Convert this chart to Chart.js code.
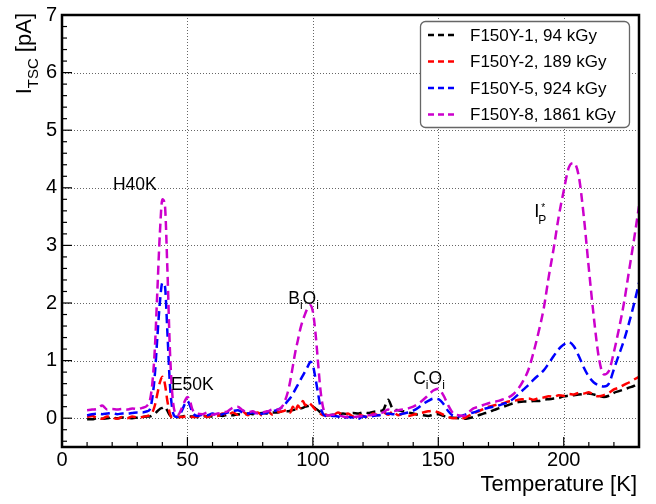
<!DOCTYPE html>
<html><head><meta charset="utf-8">
<script src="https://cdn.jsdelivr.net/npm/chart.js@4.4.1/dist/chart.umd.min.js"></script>
<style>html,body{margin:0;padding:0;background:#fff;} canvas{display:block;}</style>
</head><body>
<canvas id="c" width="656" height="504"></canvas>
<script>
// ---- data ----
const temps = [10,12,14,16,18,20,22,24,26,28,30,32,34,
 35,36,37,38,39,40,41,42,43,44,45,46,
 48,49,50,51,52,
 54,56,58,60,62,64,66,68,70,72,74,76,78,80,82,84,86,88,
 90,91,92,93,94,95,96,97,98,99,100,101,102,103,104,105,106,
 108,110,112,114,116,118,120,122,124,126,128,130,132,134,136,138,140,
 142,144,146,148,150,152,154,156,158,160,162,164,166,168,170,172,
 174,176,178,180,182,184,186,188,190,192,194,196,198,200,202,204,
 206,208,210,212,214,216,218,220,222,224,226,228,230];

const f150y1 = [-0.02,-0.02,0.0,-0.01,0.0,0.01,0.0,0.01,0.01,0.0,0.01,0.02,0.03,
 0.03,0.05,0.08,0.12,0.16,0.18,0.2,0.13,0.05,0.02,0.03,0.02,
 0.03,0.04,0.03,0.03,0.03,
 0.02,0.03,0.04,0.03,0.05,0.04,0.06,0.05,0.07,0.06,0.08,0.07,0.08,0.09,0.08,0.1,0.1,0.12,
 0.12,0.13,0.14,0.15,0.16,0.17,0.18,0.2,0.21,0.22,0.2,0.17,0.14,0.1,0.08,0.06,0.05,
 0.06,0.07,0.08,0.07,0.09,0.08,0.1,0.09,0.11,0.12,0.14,0.32,0.15,0.14,0.12,0.1,0.08,
 0.06,0.05,0.04,0.06,0.07,0.04,0.02,0.01,0.0,-0.01,0.0,0.02,0.05,0.08,0.1,0.14,
 0.17,0.2,0.23,0.26,0.28,0.29,0.29,0.3,0.3,0.32,0.33,0.34,0.35,0.38,0.39,0.4,
 0.41,0.42,0.43,0.41,0.39,0.37,0.39,0.44,0.47,0.5,0.53,0.56,0.62];

const f150y2 = [0.02,0.04,0.0,-0.01,0.03,0.01,-0.01,0.02,0.0,0.03,0.01,0.02,0.04,
 0.05,0.1,0.22,0.42,0.62,0.72,0.6,0.3,0.08,0.0,0.01,0.02,
 0.02,0.03,0.04,0.03,0.02,
 0.03,0.05,0.02,0.06,0.04,0.08,0.05,0.1,0.06,0.12,0.05,0.08,0.1,0.04,0.12,0.06,0.1,0.12,
 0.15,0.1,0.2,0.12,0.22,0.18,0.3,0.22,0.28,0.25,0.2,0.15,0.12,0.08,0.05,0.06,0.05,
 0.05,0.1,0.06,0.08,0.03,0.06,0.04,0.02,0.08,0.05,0.1,0.06,0.12,0.05,0.08,0.04,0.06,
 0.08,0.1,0.12,0.13,0.1,0.06,0.02,0.0,0.01,0.0,0.04,0.08,0.12,0.16,0.2,0.22,
 0.24,0.26,0.29,0.3,0.32,0.33,0.34,0.32,0.35,0.36,0.38,0.37,0.4,0.39,0.42,0.41,
 0.44,0.43,0.45,0.4,0.38,0.4,0.44,0.5,0.53,0.58,0.62,0.67,0.72];

const f150y5 = [0.05,0.07,0.08,0.07,0.08,0.09,0.07,0.08,0.08,0.09,0.1,0.1,0.12,
 0.15,0.35,0.75,1.4,2.0,2.35,2.3,1.5,0.6,0.15,0.03,0.02,
 0.15,0.25,0.3,0.22,0.1,
 0.04,0.06,0.05,0.08,0.05,0.07,0.1,0.12,0.14,0.1,0.08,0.1,0.06,0.08,0.1,0.12,0.15,0.2,
 0.3,0.35,0.42,0.5,0.58,0.66,0.74,0.82,0.9,0.98,0.92,0.7,0.45,0.2,0.08,0.04,0.05,
 0.04,0.03,0.0,0.02,0.01,-0.01,0.03,0.02,0.04,0.05,0.06,0.08,0.07,0.06,0.08,0.1,0.13,
 0.18,0.25,0.3,0.34,0.33,0.25,0.12,0.04,0.03,0.05,0.08,0.1,0.13,0.16,0.18,0.2,
 0.22,0.25,0.28,0.34,0.42,0.5,0.58,0.67,0.75,0.83,0.95,1.08,1.2,1.28,1.32,1.25,
 1.08,0.88,0.72,0.62,0.57,0.55,0.6,0.85,1.1,1.35,1.65,1.98,2.35];

const f150y8 = [0.14,0.15,0.16,0.22,0.15,0.16,0.15,0.16,0.15,0.17,0.16,0.18,0.22,
 0.3,0.6,1.2,2.2,3.2,3.8,3.7,2.6,1.2,0.4,0.1,0.05,
 0.2,0.3,0.37,0.3,0.15,
 0.08,0.07,0.1,0.06,0.08,0.1,0.12,0.18,0.2,0.14,0.1,0.12,0.08,0.1,0.12,0.15,0.15,0.22,
 0.45,0.65,0.9,1.15,1.35,1.55,1.7,1.82,1.92,1.96,1.85,1.5,1.0,0.5,0.2,0.08,0.05,
 0.06,0.05,0.03,0.02,0.02,0.03,0.04,0.05,0.06,0.08,0.1,0.15,0.12,0.14,0.15,0.17,0.2,
 0.25,0.32,0.4,0.48,0.51,0.4,0.22,0.08,0.05,0.04,0.1,0.17,0.2,0.23,0.26,0.28,
 0.3,0.33,0.36,0.42,0.52,0.66,0.85,1.15,1.5,1.9,2.45,2.95,3.5,3.95,4.35,4.43,
 4.2,3.5,2.6,1.75,1.05,0.76,0.82,1.15,1.55,2.0,2.55,3.1,3.68];

const seriesLabels = ['F150Y-1, 94 kGy','F150Y-2, 189 kGy','F150Y-5, 924 kGy','F150Y-8, 1861 kGy'];
const xTicks = [0,50,100,150,200];
const yTicks = [0,1,2,3,4,5,6,7];
const xMinor = [10,20,30,40,60,70,80,90,110,120,130,140,160,170,180,190,210,220];
const yMinorStep = 0.2;

const FONT = "'Liberation Sans', Arial, Helvetica, sans-serif";

function mk(vals){ return temps.map((t,i)=>({x:t, y:vals[i]})); }

const colors = ['#000000','#ff0000','#0000ff','#cc00cc'];
const seriesVals = [f150y1,f150y2,f150y5,f150y8];

const datasets = seriesVals.map((v,i)=>({
  label: seriesLabels[i],
  data: mk(v),
  borderColor: colors[i],
  borderWidth: 2.5,
  borderDash: [9,5],
  pointRadius: 0,
  fill: false,
  cubicInterpolationMode: 'monotone',
  order: 4 - i
}));

function rich(ctx, parts, x, y, align){
  // parts: [text, size, dy]
  let w = 0;
  parts.forEach(p=>{ ctx.font = p[1]+'px '+FONT; w += ctx.measureText(p[0]).width; });
  let cx = align==='right' ? x - w : x;
  parts.forEach(p=>{ ctx.font = p[1]+'px '+FONT; ctx.fillText(p[0], cx, y + p[2]); cx += ctx.measureText(p[0]).width; });
}

const decor = {
  id:'decor',
  beforeDatasetsDraw(chart){
    const {ctx, chartArea:a, scales:{x,y}} = chart;
    ctx.save();
    ctx.strokeStyle = '#666'; ctx.lineWidth = 1; ctx.setLineDash([1,2]);
    xTicks.forEach(v=>{ if(v<=x.min||v>=x.max) return; const p=Math.round(x.getPixelForValue(v))+0.5;
      ctx.beginPath(); ctx.moveTo(p,a.top); ctx.lineTo(p,a.bottom); ctx.stroke(); });
    yTicks.forEach(v=>{ if(v<=y.min||v>=y.max) return; const p=Math.round(y.getPixelForValue(v))+0.5;
      ctx.beginPath(); ctx.moveTo(a.left,p); ctx.lineTo(a.right,p); ctx.stroke(); });
    ctx.restore();
  },
  afterDatasetsDraw(chart){
    const {ctx, chartArea:a, scales:{x,y}} = chart;
    ctx.save();
    // inward ticks
    ctx.strokeStyle='#000'; ctx.lineWidth=1.2; ctx.setLineDash([]);
    xTicks.forEach(v=>{ const p=x.getPixelForValue(v); ctx.beginPath(); ctx.moveTo(p,a.bottom); ctx.lineTo(p,a.bottom-10); ctx.stroke(); });
    xMinor.forEach(v=>{ const p=x.getPixelForValue(v); ctx.beginPath(); ctx.moveTo(p,a.bottom); ctx.lineTo(p,a.bottom-5); ctx.stroke(); });
    for(let k=Math.ceil(y.min/yMinorStep); k*yMinorStep<=y.max+1e-9; k++){
      const v=k*yMinorStep; const major=Math.abs(v-Math.round(v))<1e-6;
      const p=y.getPixelForValue(v); ctx.beginPath(); ctx.moveTo(a.left,p); ctx.lineTo(a.left+(major?10:5),p); ctx.stroke();
    }
    // frame
    ctx.lineWidth=2.5; ctx.strokeRect(a.left, a.top, a.right-a.left, a.bottom-a.top);

    // annotations
    ctx.fillStyle='#000'; ctx.textBaseline='alphabetic'; ctx.textAlign='left';
    const P=(t,v)=>[x.getPixelForValue(t), y.getPixelForValue(v)];
    let q;
    q=P(20.3,3.97); rich(ctx,[['H40K',17.5,0]],q[0],q[1]);
    q=P(43.4,0.49); rich(ctx,[['E50K',17.5,0]],q[0],q[1]);
    q=P(90.2,1.99); rich(ctx,[['B',17.5,0],['i',12,5],['O',17.5,0],['i',12,5]],q[0],q[1]);
    q=P(140.0,0.60); rich(ctx,[['C',17.5,0],['i',12,5],['O',17.5,0],['i',12,5]],q[0],q[1]);
    q=P(188.2,3.49); rich(ctx,[['I',18.5,0]],q[0],q[1]);
    ctx.font='12px '+FONT; ctx.fillText('P',q[0]+4,q[1]+7);
    ctx.font='10px '+FONT; ctx.fillText('*',q[0]+7,q[1]-6);

    // legend
    const lx=420.5, ly=21.5, lw=209, lh=106;
    ctx.fillStyle='#fff'; ctx.strokeStyle='#666'; ctx.lineWidth=1.3;
    ctx.beginPath(); ctx.roundRect(lx,ly,lw,lh,5); ctx.fill(); ctx.stroke();
    const rows=[35,61.5,88,114.5];
    chart.data.datasets.forEach((ds,i)=>{
      ctx.strokeStyle=ds.borderColor; ctx.lineWidth=2.5; ctx.setLineDash([6,4]);
      ctx.beginPath(); ctx.moveTo(428,rows[i]); ctx.lineTo(458,rows[i]); ctx.stroke();
      ctx.setLineDash([]);
      ctx.fillStyle='#000'; ctx.font='17px '+FONT; ctx.textBaseline='middle';
      ctx.fillText(ds.label, 470, rows[i]+1);
    });

    // axis titles
    ctx.textBaseline='alphabetic'; ctx.fillStyle='#000';
    ctx.font='22px '+FONT; ctx.textAlign='right';
    ctx.fillText('Temperature [K]', 637, 491);
    ctx.textAlign='left';
    ctx.translate(31,13); ctx.rotate(-Math.PI/2);
    rich(ctx,[['I',22,0],['TSC',15,7],[' [pA]',22,0]],0,0,'right');
    ctx.restore();
  }
};

new Chart(document.getElementById('c'), {
  type:'line',
  data:{ datasets },
  options:{
    responsive:false, animation:false, devicePixelRatio:1,
    layout:{padding:{top:11,right:17,left:0,bottom:0}},
    plugins:{legend:{display:false}, tooltip:{enabled:false}},
    scales:{
      x:{ type:'linear', min:0, max:230,
        afterBuildTicks:s=>{ s.ticks = xTicks.map(v=>({value:v})); },
        afterFit:s=>{ s.height = 57; },
        grid:{display:false, drawTicks:false}, border:{display:false},
        ticks:{autoSkip:false, maxRotation:0, padding:3, color:'#000', font:{family:FONT, size:20, lineHeight:1}} },
      y:{ type:'linear', min:-0.5, max:7,
        afterBuildTicks:s=>{ s.ticks = yTicks.map(v=>({value:v})); },
        afterFit:s=>{ s.width = 62; },
        grid:{display:false, drawTicks:false}, border:{display:false},
        ticks:{autoSkip:false, padding:5, color:'#000', font:{family:FONT, size:20, lineHeight:1}} }
    }
  },
  plugins:[decor]
});
</script>
</body></html>
